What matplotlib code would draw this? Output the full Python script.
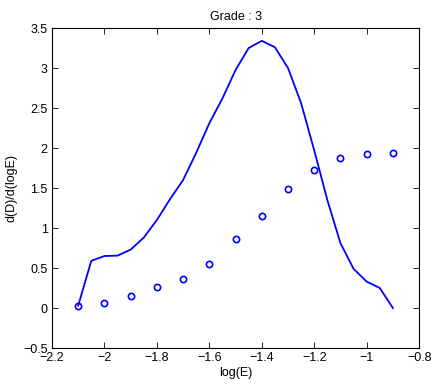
import matplotlib
matplotlib.use('Agg')
import matplotlib.pyplot as plt

# curve: d(D)/d(logE) vs log(E), step 0.05
curve_x = [-2.1, -2.05, -2.0, -1.95, -1.9, -1.85, -1.8, -1.75, -1.7, -1.65,
           -1.6, -1.55, -1.5, -1.45, -1.4, -1.35, -1.3, -1.25, -1.2, -1.15,
           -1.1, -1.05, -1.0, -0.95, -0.9]
curve_y = [0.03, 0.59, 0.65, 0.655, 0.73, 0.88, 1.1, 1.36, 1.6, 1.94,
           2.31, 2.62, 2.975, 3.25, 3.34, 3.26, 3.0, 2.56, 1.97, 1.35,
           0.81, 0.49, 0.33, 0.25, 0.0]

# circle markers, step 0.1
pts_x = [-2.1, -2.0, -1.9, -1.8, -1.7, -1.6, -1.5, -1.4, -1.3, -1.2, -1.1, -1.0, -0.9]
pts_y = [0.03, 0.06, 0.15, 0.26, 0.36, 0.55, 0.86, 1.15, 1.49, 1.72, 1.87, 1.92, 1.94]

xticks = [-2.2, -2, -1.8, -1.6, -1.4, -1.2, -1, -0.8]
yticks = [-0.5, 0, 0.5, 1, 1.5, 2, 2.5, 3, 3.5]

plt.rcParams['font.family'] = ['Liberation Sans', 'DejaVu Sans']
plt.rcParams['axes.unicode_minus'] = True

fig = plt.figure(figsize=(4.33, 3.86), dpi=100)
ax = fig.add_axes([0.120, 0.0984, 0.848, 0.829])

ax.plot(curve_x, curve_y, color='#0000ff', lw=1.3)
ax.plot(pts_x, pts_y, 'o', mfc='none', mec='#0000ff', mew=1.2, ms=4.5)

ax.set_xlim(-2.2, -0.8)
ax.set_ylim(-0.5, 3.5)
ax.set_xticks(xticks)
ax.set_yticks(yticks)
ax.set_xticklabels([('%g' % t).replace('-', '\u2212') for t in xticks])
ax.set_yticklabels([('%g' % t).replace('-', '\u2212') for t in yticks])
ax.tick_params(direction='in', top=True, right=True, labelsize=9, length=4, width=0.6, pad=3)
for s in ax.spines.values():
    s.set_linewidth(0.8)

ax.set_xlabel('log(E)', fontsize=9, labelpad=2)
ax.set_ylabel('d(D)/d(logE)', fontsize=9, labelpad=4)
ax.set_title('Grade : 3', fontsize=9, pad=6)

fig.savefig('out.png', dpi=100)
